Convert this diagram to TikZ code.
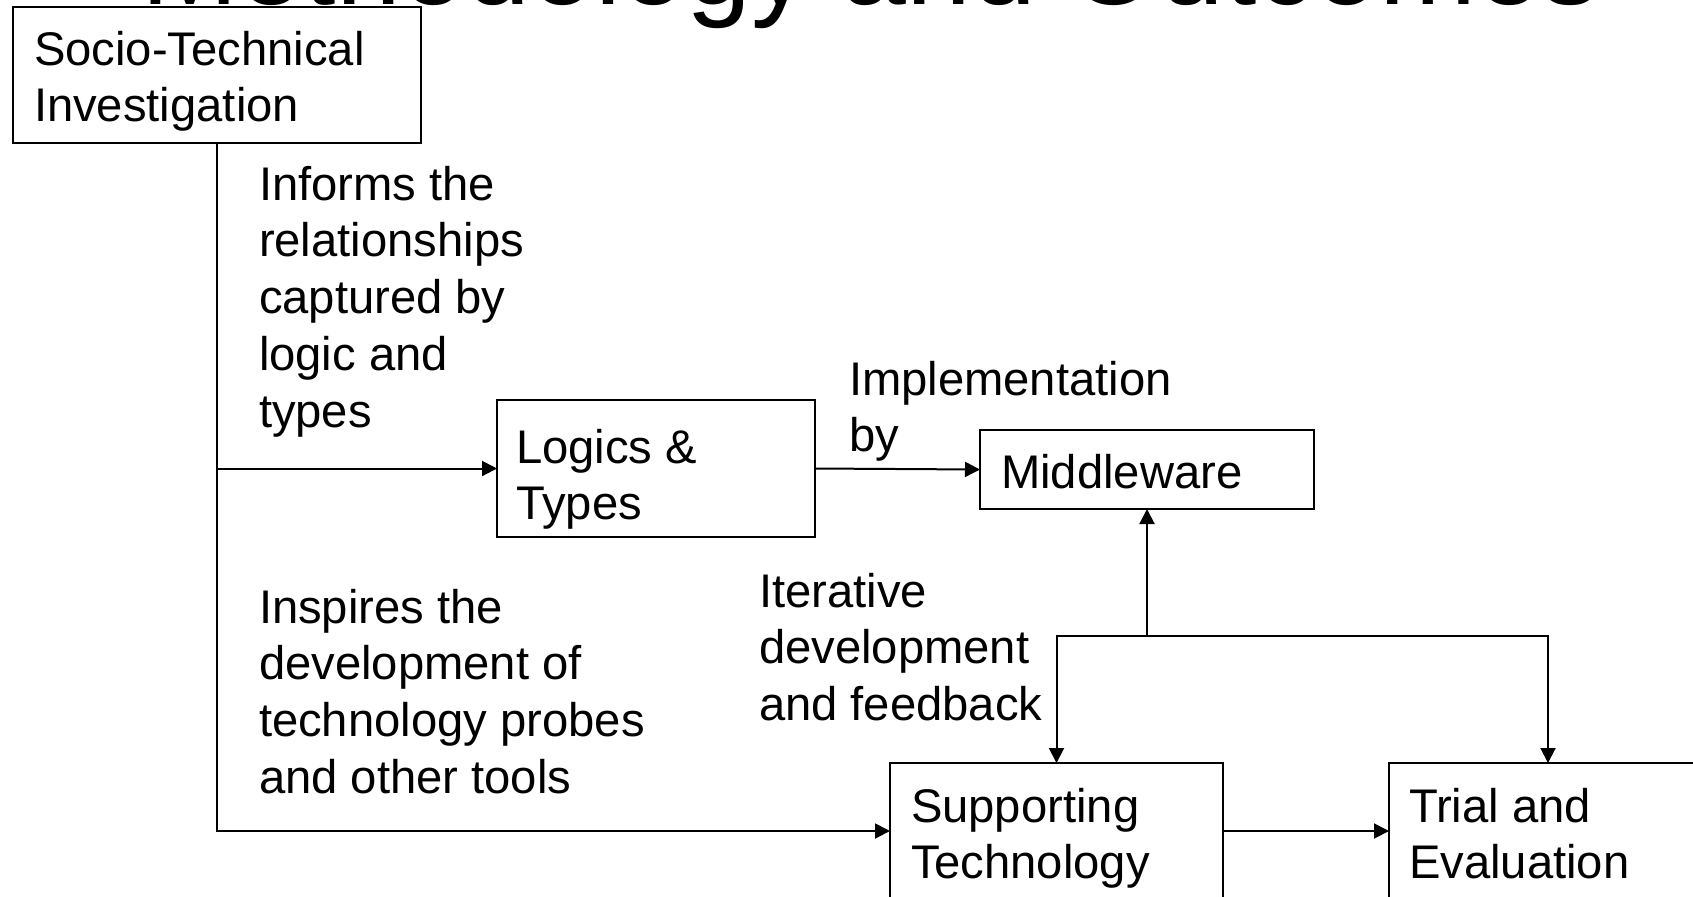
\documentclass[tikz,border=0pt]{standalone}
\usepackage{fontspec}
\setmainfont{Liberation Sans}
\usetikzlibrary{arrows.meta}
\begin{document}
\begin{tikzpicture}[x=0.5pt,y=-0.5pt,
  box/.style={draw=black,fill=white,line width=1pt,rectangle,inner sep=0pt,outer sep=0pt},
  lbl/.style={inner sep=0pt,outer sep=0pt,anchor=north west,align=left,
    font=\fontsize{23.6}{28.4}\selectfont},
  conn/.style={line width=1pt},
  arr/.style={line width=1pt,-{Triangle[length=7.5pt,width=7.5pt]}}]
\useasboundingbox (0,0) rectangle (1693,896);
\clip (0,0) rectangle (1693,896);
% title (cut off at top)
\node[inner sep=0pt,anchor=base,font=\fontsize{58.3}{70}\selectfont] (title) at (871,4.5) {Methodology and Outcomes};
% boxes
\node[box,minimum width=204pt,minimum height=68pt] (socio) at (217,75) {};
\node[box,minimum width=159pt,minimum height=68.5pt] (logics) at (656,468.5) {};
\node[box,minimum width=167pt,minimum height=39.5pt] (mw) at (1147,469.5) {};
\node[box,minimum width=166.5pt,minimum height=68pt] (supp) at (1056.5,831) {};
\node[box,minimum width=159pt,minimum height=68pt] (trial) at (1548,831) {};
% box texts
\node[lbl] (sociot) at (34,25.4) {\strut Socio-Technical\\Investigation};
\node[lbl] (logicst) at (516,423.4) {\strut Logics \&\\Types};
\node[lbl] (mwt) at (1001,448.4) {\strut Middleware};
\node[lbl] (suppt) at (911,782.4) {\strut Supporting\\Technology};
\node[lbl] (trialt) at (1409,782.4) {\strut Trial and\\Evaluation};
% connector labels
\node[lbl] (informs) at (259,160.4) {\strut Informs the\\relationships\\captured by\\logic and\\types};
\node[lbl] (impl) at (849,355.4) {\strut Implementation\\by};
\node[lbl] (iter) at (759,567.4) {\strut Iterative\\development\\and feedback};
\node[lbl] (inspires) at (259,583.4) {\strut Inspires the\\development of\\technology probes\\and other tools};
% connectors
\coordinate (split) at (1147,636);
\draw[arr] (socio.south) |- (supp.west);
\draw[arr] (socio.south |- logics.west) -- (logics.west);
\draw[arr] (logics.east) -- (mw.west);
\draw[arr] (split) -- (mw.south);
\draw[arr] (split) -| (supp.north);
\draw[arr] (split) -| (trial.north);
\draw[arr] (supp.east) -- (trial.west);
\end{tikzpicture}
\end{document}
